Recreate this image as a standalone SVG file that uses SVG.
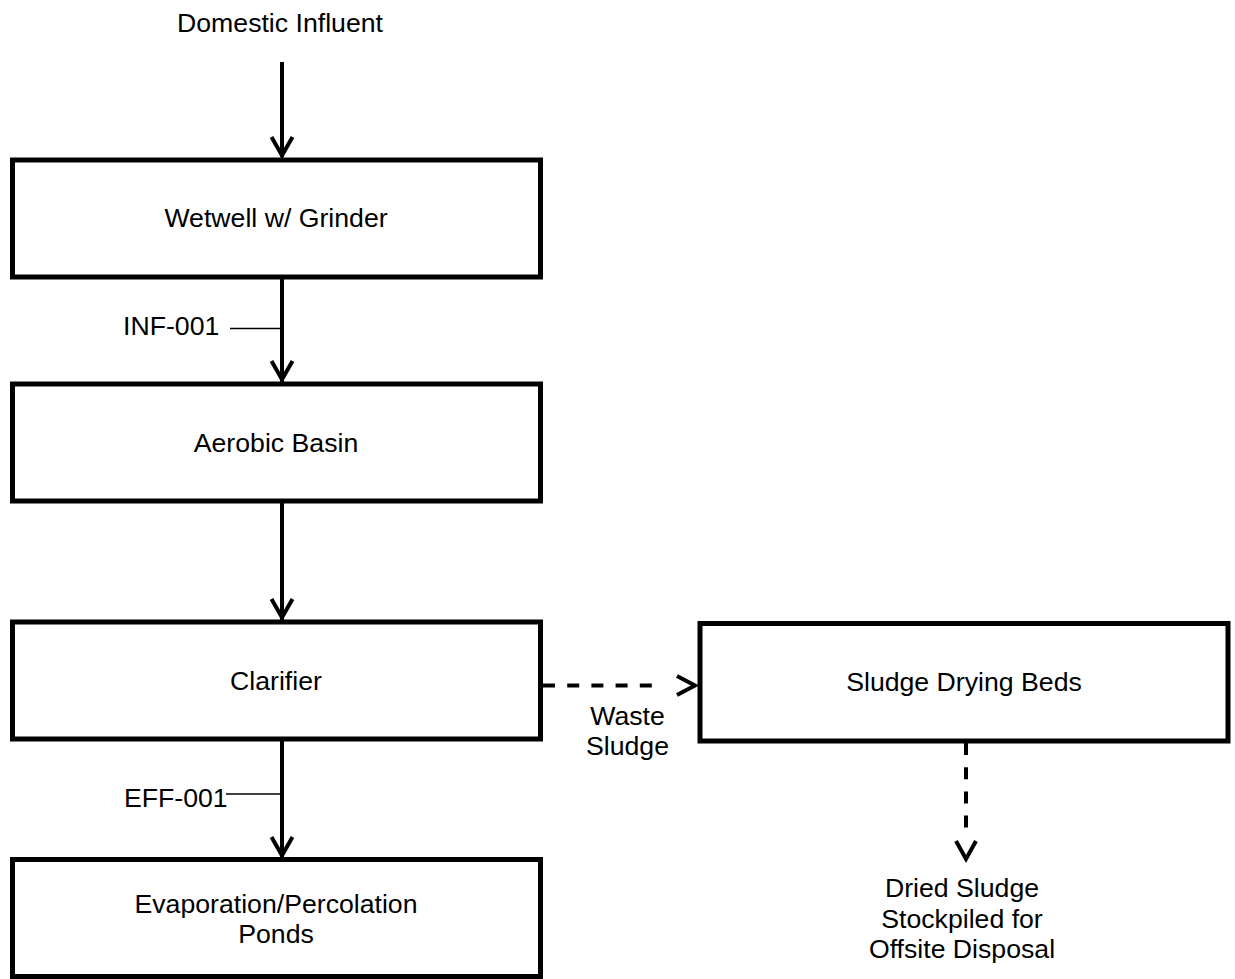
<svg xmlns="http://www.w3.org/2000/svg" width="1235" height="979" viewBox="0 0 1235 979">
<style>
  .box { fill: #ffffff; stroke: #000000; stroke-width: 5; }
  .lbl { font-family: "Liberation Sans", Arial, sans-serif; font-size: 26.67px; fill: #000000; }
  .mid { text-anchor: middle; }
  .flow { fill: none; stroke: #000000; stroke-width: 4; stroke-linejoin: miter; stroke-linecap: butt; }
  .dash { stroke-dasharray: 12 12.2; }
  .tick { fill: none; stroke: #000000; stroke-width: 1.5; }
</style>
<rect width="1235" height="979" fill="#ffffff"/>

<g id="source">
  <text class="lbl mid" x="280" y="32">Domestic Influent</text>
</g>

<g id="wetwell">
  <rect class="box" x="12.5" y="160" width="528" height="117"/>
  <text class="lbl mid" x="276" y="227">Wetwell w/ Grinder</text>
</g>

<g id="aerobic">
  <rect class="box" x="12.5" y="384" width="528" height="117"/>
  <text class="lbl mid" x="276" y="452">Aerobic Basin</text>
</g>

<g id="clarifier">
  <rect class="box" x="12.5" y="622" width="528" height="117"/>
  <text class="lbl mid" x="276" y="689.5">Clarifier</text>
</g>

<g id="ponds">
  <rect class="box" x="12.5" y="859.5" width="528" height="117"/>
  <text class="lbl mid" x="276" y="913">Evaporation/Percolation</text>
  <text class="lbl mid" x="276" y="943">Ponds</text>
</g>

<g id="drying-beds">
  <rect class="box" x="700" y="623.5" width="528" height="117.5"/>
  <text class="lbl mid" x="964" y="691">Sludge Drying Beds</text>
</g>

<g id="disposal">
  <text class="lbl mid" x="962" y="897">Dried Sludge</text>
  <text class="lbl mid" x="962" y="927.5">Stockpiled for</text>
  <text class="lbl mid" x="962" y="958">Offsite Disposal</text>
</g>

<g id="connectors">
  <path class="flow" d="M282 62 V157"/>
  <path class="flow" d="M271.5 137 L282 155.5 L292.5 137"/>

  <path class="flow" d="M282 277 V382"/>
  <path class="flow" d="M271.5 361 L282 379.5 L292.5 361"/>

  <path class="flow" d="M282 501 V620"/>
  <path class="flow" d="M271.5 599 L282 617.5 L292.5 599"/>

  <path class="flow" d="M282 739 V857"/>
  <path class="flow" d="M271.5 837 L282 855.5 L292.5 837"/>

  <path class="flow dash" d="M543 685.5 H652"/>
  <path class="flow" d="M677 676 L695 685.5 L677 695"/>

  <path class="flow dash" d="M966 743 V832"/>
  <path class="flow" d="M956 841 L966 859 L976 841"/>

  <path class="tick" d="M230 328.5 H282"/>
  <path class="tick" d="M226 794 H282"/>
</g>

<g id="connector-labels">
  <text class="lbl" x="123" y="335">INF-001</text>
  <text class="lbl" x="124" y="807">EFF-001</text>
  <text class="lbl mid" x="627.5" y="725">Waste</text>
  <text class="lbl mid" x="627.5" y="755">Sludge</text>
</g>
</svg>
